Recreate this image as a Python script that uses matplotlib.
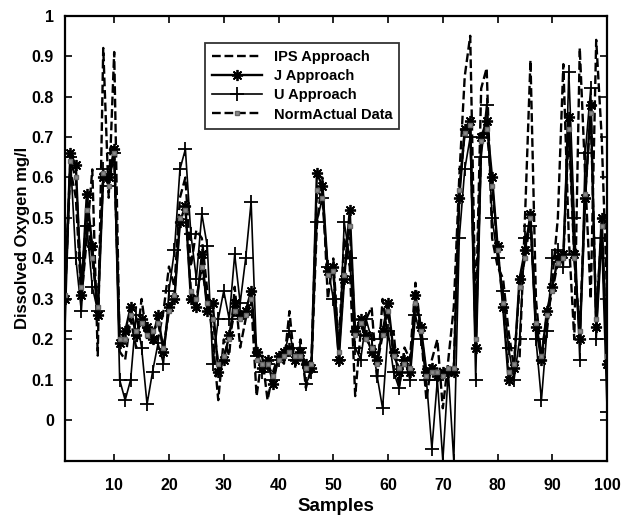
import matplotlib.pyplot as plt
import numpy as np

plt.rcParams['font.family'] = ['Liberation Sans', 'DejaVu Sans']
plt.rcParams['font.weight'] = 'bold'

samples = np.arange(1, 101)

ips = [0.30, 0.62, 0.55, 0.30, 0.45, 0.62, 0.16, 0.92, 0.55, 0.91,
       0.17, 0.15, 0.25, 0.18, 0.30, 0.20, 0.22, 0.20, 0.27, 0.38,
       0.33, 0.55, 0.60, 0.38, 0.47, 0.45, 0.32, 0.20, 0.05, 0.20,
       0.16, 0.33, 0.18, 0.25, 0.30, 0.06, 0.16, 0.05, 0.12, 0.16,
       0.14, 0.27, 0.13, 0.20, 0.08, 0.13, 0.48, 0.60, 0.30, 0.40,
       0.18, 0.45, 0.38, 0.06, 0.22, 0.25, 0.28, 0.10, 0.30, 0.20,
       0.22, 0.08, 0.18, 0.15, 0.34, 0.22, 0.05, 0.15, 0.20, 0.03,
       0.15, 0.28, 0.60, 0.85, 0.95, 0.25, 0.82, 0.87, 0.45, 0.38,
       0.35, 0.22, 0.13, 0.15, 0.50, 0.89, 0.30, 0.15, 0.22, 0.35,
       0.50, 0.88, 0.45, 0.20, 0.92, 0.60, 0.30, 0.94, 0.70, 0.30]

j_app = [0.30, 0.66, 0.63, 0.31, 0.56, 0.43, 0.26, 0.60, 0.60, 0.67,
         0.19, 0.22, 0.28, 0.21, 0.25, 0.23, 0.20, 0.26, 0.17, 0.28,
         0.30, 0.49, 0.53, 0.30, 0.28, 0.41, 0.27, 0.29, 0.12, 0.15,
         0.21, 0.29, 0.26, 0.27, 0.32, 0.17, 0.13, 0.15, 0.09, 0.16,
         0.17, 0.18, 0.15, 0.17, 0.14, 0.13, 0.61, 0.58, 0.37, 0.38,
         0.15, 0.35, 0.52, 0.22, 0.25, 0.21, 0.17, 0.15, 0.22, 0.29,
         0.17, 0.12, 0.15, 0.12, 0.31, 0.23, 0.12, 0.13, 0.11, 0.12,
         0.12, 0.12, 0.55, 0.72, 0.74, 0.18, 0.70, 0.74, 0.60, 0.43,
         0.28, 0.10, 0.13, 0.35, 0.42, 0.51, 0.23, 0.15, 0.27, 0.33,
         0.40, 0.41, 0.75, 0.41, 0.20, 0.55, 0.78, 0.23, 0.50, 0.14]

u_app = [0.22, 0.65, 0.40, 0.27, 0.48, 0.33, 0.27, 0.62, 0.58, 0.66,
         0.10, 0.05, 0.10, 0.26, 0.18, 0.04, 0.12, 0.19, 0.14, 0.32,
         0.42, 0.62, 0.67, 0.46, 0.35, 0.51, 0.43, 0.14, 0.25, 0.32,
         0.25, 0.41, 0.29, 0.40, 0.54, 0.16, 0.12, 0.14, 0.10, 0.15,
         0.16, 0.22, 0.15, 0.18, 0.09, 0.12, 0.49, 0.55, 0.38, 0.30,
         0.15, 0.49, 0.40, 0.18, 0.15, 0.25, 0.20, 0.11, 0.03, 0.22,
         0.12, 0.08, 0.15, 0.10, 0.26, 0.20, 0.10, -0.07, 0.10, -0.10,
         0.12, -0.10, 0.45, 0.62, 0.70, 0.10, 0.65, 0.78, 0.50, 0.40,
         0.32, 0.18, 0.10, 0.20, 0.45, 0.48, 0.20, 0.05, 0.22, 0.40,
         0.42, 0.38, 0.86, 0.50, 0.15, 0.66, 0.82, 0.20, 0.45, 0.02]

actual = [0.31, 0.64, 0.60, 0.33, 0.52, 0.40, 0.28, 0.61, 0.58, 0.66,
          0.20, 0.20, 0.26, 0.22, 0.24, 0.21, 0.22, 0.24, 0.18, 0.27,
          0.31, 0.50, 0.52, 0.32, 0.30, 0.38, 0.29, 0.25, 0.14, 0.16,
          0.20, 0.27, 0.25, 0.26, 0.30, 0.15, 0.14, 0.14, 0.11, 0.15,
          0.16, 0.17, 0.16, 0.16, 0.13, 0.14, 0.57, 0.55, 0.36, 0.37,
          0.17, 0.36, 0.48, 0.21, 0.24, 0.20, 0.18, 0.14, 0.21, 0.27,
          0.16, 0.13, 0.14, 0.13, 0.29, 0.22, 0.11, 0.12, 0.12, 0.11,
          0.13, 0.13, 0.57, 0.71, 0.73, 0.20, 0.69, 0.72, 0.58, 0.42,
          0.29, 0.12, 0.14, 0.33, 0.40, 0.50, 0.24, 0.16, 0.26, 0.32,
          0.39, 0.40, 0.72, 0.40, 0.22, 0.56, 0.76, 0.25, 0.48, 0.16]

fig = plt.figure(figsize=(6.24, 5.19), dpi=100)
ax = fig.add_axes([0.104, 0.112, 0.869, 0.858])

# MATLAB style asterisk for the J series
asterisk = (8, 2, 0)

ax.plot(samples, ips, 'k--', lw=1.7, label='IPS Approach')
ax.plot(samples, j_app, 'k-', lw=1.7, marker=asterisk, ms=8, mew=1.3,
        label='J Approach')
ax.plot(samples, u_app, 'k-', lw=1.2, marker='+', ms=10, mew=1.3, label='U Approach')
ax.plot(samples, actual, 'k--', lw=1.7, marker='s', ms=3, mfc='0.55', mec='0.4',
        label='NormActual Data')

ax.set_xlim(1, 100)
ax.set_ylim(-0.1, 1)
ax.set_xticks(np.arange(10, 101, 10))
ax.set_yticks(np.round(np.arange(0, 1.01, 0.1), 1))
ax.set_yticklabels(['0', '0.1', '0.2', '0.3', '0.4', '0.5', '0.6', '0.7', '0.8', '0.9', '1'])
ax.tick_params(direction='in', top=True, right=True, labelsize=11.5, length=5, width=1.2)
ax.tick_params(axis='x', pad=12)
ax.tick_params(axis='y', pad=8)
for sp in ax.spines.values():
    sp.set_linewidth(1.6)

ax.set_xlabel('Samples', fontsize=13.5, fontweight='bold', labelpad=4)
ax.set_ylabel('Dissolved Oxygen mg/l', fontsize=12, fontweight='bold', labelpad=1)

leg = ax.legend(loc='upper left', bbox_to_anchor=(0.245, 0.955), fontsize=10.5,
                frameon=True, fancybox=False, edgecolor='black', handlelength=3.4,
                borderpad=0.5, labelspacing=0.35)
leg.get_frame().set_linewidth(1.3)

fig.savefig('out.png', dpi=100)
